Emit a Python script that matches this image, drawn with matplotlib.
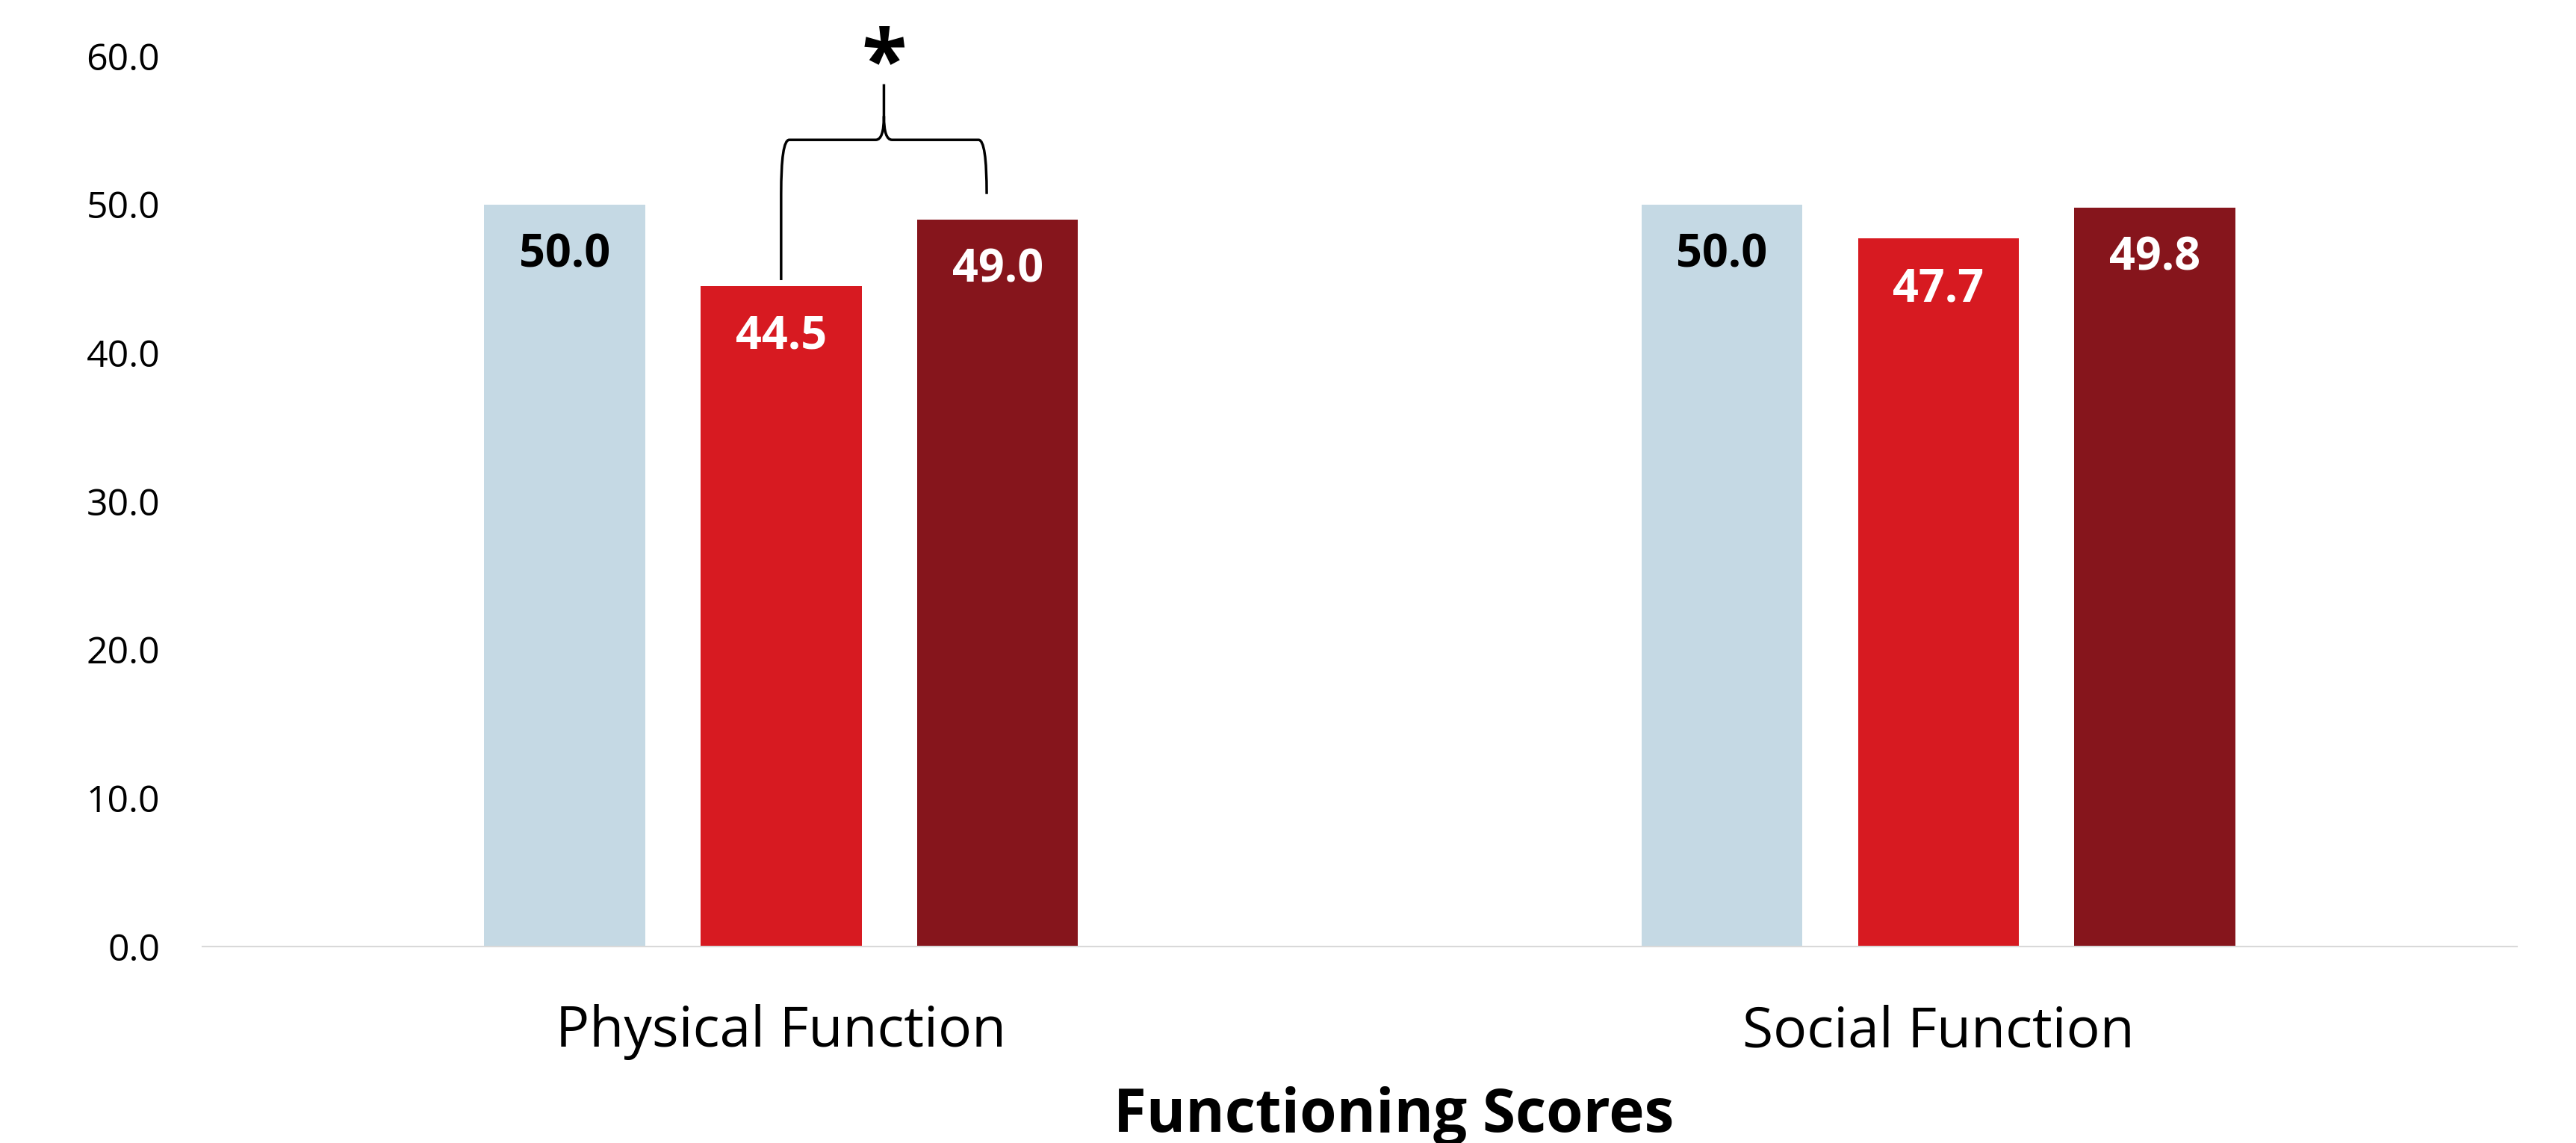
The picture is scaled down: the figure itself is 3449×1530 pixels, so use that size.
import matplotlib
matplotlib.use("Agg")
import matplotlib.pyplot as plt
import matplotlib.transforms as mtransforms
from matplotlib.path import Path
from matplotlib.patches import PathPatch
import numpy as np

plt.rcParams['font.family'] = ['Open Sans', 'DejaVu Sans']

categories = ["Physical Function", "Social Function"]
series_a = [50.0, 50.0]   # light blue
series_b = [44.5, 47.7]   # red
series_c = [49.0, 49.8]   # dark red
y_ticks = [0, 10, 20, 30, 40, 50, 60]
axis_title = "Functioning Scores"
sig_mark = "*"

colors = ["#C5D9E4", "#D71A21", "#86151C"]
label_colors = ["black", "white", "white"]

fig = plt.figure(figsize=(34.49, 15.30), dpi=100)
ax = fig.add_axes([0.0786, 0.1719, 0.8985, 0.7791])

x = np.arange(len(categories))
width = 0.139
step = 0.187
series = [series_a, series_b, series_c]
for i, (vals, col, lc) in enumerate(zip(series, colors, label_colors)):
    xs = x + (i - 1) * step
    ax.bar(xs, vals, width=width, color=col, zorder=2)
    for xi, v in zip(xs, vals):
        ax.annotate(f"{v:.1f}", (xi, v), xytext=(0, -60.5), textcoords="offset points",
                    ha="center", va="baseline", fontsize=44, fontweight="bold", color=lc)

ax.set_xlim(-0.5, 1.5)
ax.set_ylim(0, 60)
ax.set_yticks(y_ticks)
ax.set_yticklabels([f"{t:.1f}" for t in y_ticks], fontsize=36)
ax.tick_params(axis="y", length=0, pad=41)
ax.set_xticks([])
for s in ["top", "right", "left"]:
    ax.spines[s].set_visible(False)
ax.spines["bottom"].set_color("#D9D9D9")
ax.spines["bottom"].set_linewidth(1.5)

# Category labels and axis title
blend = mtransforms.blended_transform_factory(ax.transData, fig.transFigure)
for xi, cat in zip(x, categories):
    ax.text(xi, 0.0843, cat, transform=blend, ha="center", va="baseline", fontsize=54)
fig.text(1866 / 3449, 0.0098, axis_title, ha="center", va="baseline",
         fontsize=57.5, fontweight="bold")

# Significance brace between red and dark-red bars of the first group
xl = x[0]
xr = x[0] + step * 0.95
xm = (xl + xr) / 2
y_bot_l = series_b[0] + 0.4
y_bot_r = 50.7
y_knee = 50.7
y_h = 54.35
y_top = 58.1
dx = 0.007
verts = [
    (xl, y_bot_l), (xl, y_knee), (xl, y_h), (xl + dx, y_h),
    (xm - dx, y_h), (xm, y_h), (xm, y_h + 1.6), (xm, y_top),
    (xm, y_h + 1.6), (xm, y_h), (xm + dx, y_h),
    (xr - dx, y_h), (xr, y_h), (xr, y_knee), (xr, y_bot_r),
]
codes = [Path.MOVETO, Path.LINETO, Path.CURVE3, Path.CURVE3,
         Path.LINETO, Path.CURVE3, Path.CURVE3, Path.LINETO,
         Path.MOVETO, Path.CURVE3, Path.CURVE3,
         Path.LINETO, Path.CURVE3, Path.CURVE3, Path.LINETO]
ax.add_patch(PathPatch(Path(verts, codes), fill=False, lw=2.5, color="black",
                       clip_on=False, zorder=3))
ax.text(xm, 57.8, sig_mark, ha="center", va="baseline", fontsize=80,
        fontweight="bold", clip_on=False)

fig.savefig("out.png", dpi=100)
